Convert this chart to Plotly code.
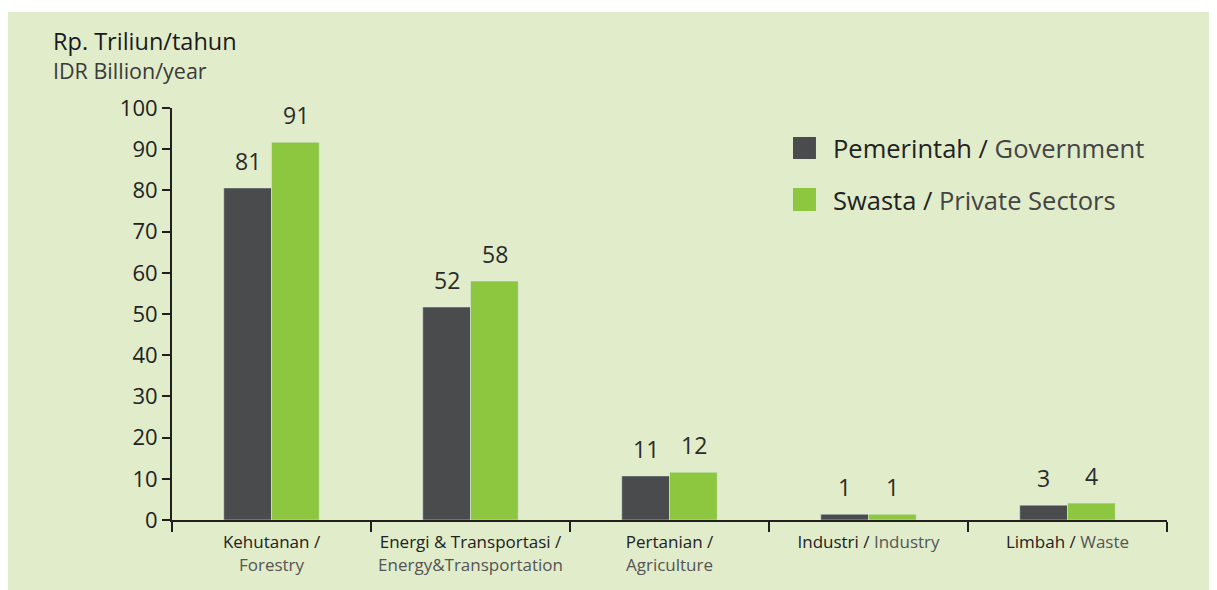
import plotly.graph_objects as go

# ---- data ----
cat_id = ["Kehutanan /", "Energi & Transportasi /", "Pertanian /", "Industri /", "Limbah /"]
cat_en = ["Forestry", "Energy&Transportation", "Agriculture", "Industry", "Waste"]
gov_values = [80.6, 51.7, 10.7, 1.4, 3.6]
priv_values = [91.7, 58.0, 11.6, 1.4, 4.1]
gov_labels = ["81", "52", "11", "1", "3"]
priv_labels = ["91", "58", "12", "1", "4"]
yticks = [0, 10, 20, 30, 40, 50, 60, 70, 80, 90, 100]

GREY = "#4a4b4d"
GREEN = "#8dc63f"
BG = "#e0ecca"
INK = "#231f20"
FONT = "Open Sans"

def tick_label(a, b):
    if a.startswith("Industri") or a.startswith("Limbah"):
        return f"{a} <span style='color:#555'>{b}</span>"
    return f"{a}<br><span style='color:#555'>{b}</span>"

xcats = [tick_label(a, b) for a, b in zip(cat_id, cat_en)]

fig = go.Figure()
fig.add_bar(x=xcats, y=gov_values, marker_color=GREY, name="Pemerintah / Government")
fig.add_bar(x=xcats, y=priv_values, marker_color=GREEN, name="Swasta / Private Sectors")

# data labels above bars
for xc, v, t in zip(xcats, gov_values, gov_labels):
    fig.add_annotation(x=xc, y=v, text=t, showarrow=False, xref="x", yref="y",
                       xshift=-24, yshift=9, yanchor="bottom",
                       font=dict(family=FONT, size=23, color="#2b2b2b"))
for xc, v, t in zip(xcats, priv_values, priv_labels):
    fig.add_annotation(x=xc, y=v, text=t, showarrow=False, xref="x", yref="y",
                       xshift=24, yshift=9, yanchor="bottom",
                       font=dict(family=FONT, size=23, color="#2b2b2b"))

# background panel (leaves a thin white strip at the top)
fig.add_shape(type="rect", xref="paper", yref="paper", x0=-0.17, x1=1.07,
              y0=-0.2, y1=1.233, fillcolor=BG, line_width=0, layer="below")

# legend (manual)
legend_items = [("Pemerintah / ", "Government", GREY, 0.9296, 0.8762),
                ("Swasta / ", "Private Sectors", GREEN, 0.8058, 0.7500)]
for a, b, col, y1, y0 in legend_items:
    fig.add_shape(type="rect", xref="paper", yref="paper", x0=0.6241, x1=0.6472,
                  y0=y0, y1=y1, fillcolor=col, line_width=0)
    fig.add_annotation(xref="paper", yref="paper", x=0.6623, y=(y0 + y1) / 2,
                       xanchor="left", yanchor="middle", showarrow=False,
                       text=f"{a}<span style='color:#444'>{b}</span>",
                       font=dict(family=FONT, size=25.5, color="#222"))

# axis title
fig.add_annotation(xref="paper", yref="paper", x=-0.1215, y=1.163, xanchor="left",
                   yanchor="middle", showarrow=False, text="Rp. Triliun/tahun",
                   font=dict(family=FONT, size=23.5, color="#1a1a1a", weight=500))
fig.add_annotation(xref="paper", yref="paper", x=-0.1215, y=1.09, xanchor="left",
                   yanchor="middle", showarrow=False, text="IDR Billion/year",
                   font=dict(family=FONT, size=21.5, color="#3a3a3a"))

fig.update_layout(
    width=1217, height=590,
    margin=dict(l=164, r=58, t=100, b=78, autoexpand=False),
    paper_bgcolor="white",
    plot_bgcolor="rgba(0,0,0,0)",
    barmode="group", bargap=0.52, bargroupgap=0,
    showlegend=False,
    font=dict(family=FONT, color="#222"),
)
fig.update_xaxes(type="category", showline=True, linecolor=INK, linewidth=2,
                 ticks="outside", tickson="boundaries", ticklen=10, tickwidth=2,
                 tickcolor=INK, tickangle=0, automargin=False, ticklabelstandoff=6,
                 tickfont=dict(family=FONT, size=17, color="#222"),
                 showgrid=False, zeroline=False)
fig.update_yaxes(range=[0, 100], tickvals=yticks, showline=True, linecolor=INK,
                 linewidth=2, ticks="outside", ticklen=8, tickwidth=2, tickcolor=INK,
                 automargin=False,
                 tickfont=dict(family=FONT, size=22, color="#222"), showgrid=False,
                 zeroline=False)

fig.write_html("out.html")
